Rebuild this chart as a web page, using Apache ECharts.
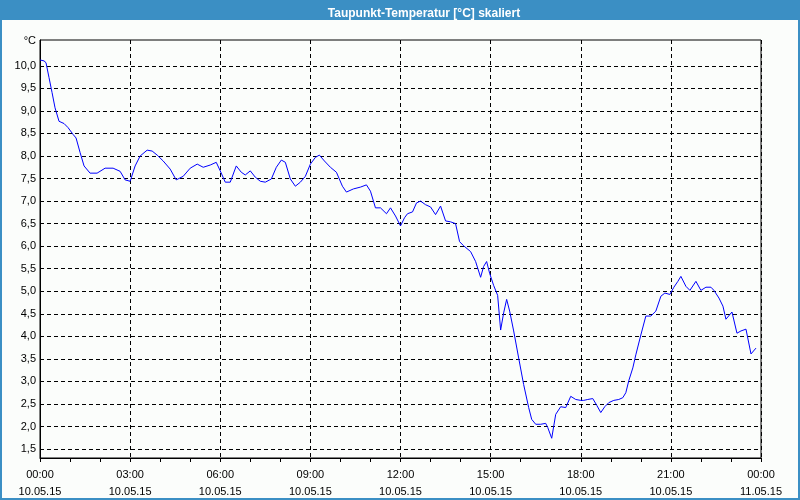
<!DOCTYPE html>
<html>
<head>
<meta charset="utf-8">
<script src="https://cdn.jsdelivr.net/npm/echarts@6/dist/echarts.min.js"></script>
<style>
html,body{margin:0;padding:0;background:#fbfdfb;}
#c{width:800px;height:500px;}
</style>
</head>
<body>
<div id="c"></div>
<script>
const chartTitle = 'Taupunkt-Temperatur [°C] skaliert';
const unitLabel = '°C';
// minutes since 10.05.15 00:00
const minutes = [
0,8,12,18,24,30,38,48,56,66,
72,80,88,100,114,130,146,160,170,180,
190,200,214,224,234,246,260,272,286,300,
314,326,340,352,360,370,380,392,402,410,
420,430,440,450,462,472,482,490,500,510,
520,530,540,550,558,568,580,592,604,612,
626,640,652,660,670,680,692,700,710,720,
728,734,744,752,760,770,780,790,800,810,
820,830,838,846,860,870,880,886,892,898,
906,914,920,926,932,938,946,956,966,976,
982,990,1000,1010,1014,1022,1030,1040,1050,1060,
1070,1080,1086,1094,1104,1112,1120,1128,1136,1146,
1156,1164,1170,1176,1184,1190,1200,1210,1220,1230,
1240,1248,1258,1266,1274,1280,1290,1298,1310,1320,
1330,1340,1346,1356,1364,1370,1382,1392,1400,1410,
1420,1430
];
const dewPoint = [
10.13,10.11,10.07,9.74,9.41,9.07,8.77,8.72,8.63,8.48,
8.40,8.08,7.78,7.62,7.62,7.73,7.73,7.66,7.47,7.44,
7.78,8.00,8.13,8.11,8.02,7.89,7.71,7.47,7.55,7.73,
7.82,7.75,7.80,7.86,7.67,7.42,7.42,7.78,7.64,7.58,
7.67,7.53,7.44,7.42,7.49,7.75,7.91,7.86,7.49,7.33,
7.42,7.55,7.82,7.97,8.02,7.89,7.75,7.64,7.33,7.20,
7.27,7.31,7.36,7.22,6.85,6.85,6.72,6.85,6.67,6.45,
6.63,6.72,6.76,6.96,7.00,6.92,6.87,6.70,6.89,6.56,
6.54,6.50,6.10,6.01,5.88,5.66,5.31,5.55,5.66,5.40,
5.13,4.91,4.14,4.52,4.82,4.56,4.12,3.52,2.93,2.42,
2.16,2.05,2.05,2.07,1.98,1.74,2.27,2.44,2.42,2.67,
2.60,2.58,2.58,2.60,2.62,2.47,2.31,2.44,2.53,2.58,
2.60,2.64,2.75,3.02,3.30,3.59,4.03,4.45,4.45,4.56,
4.89,4.96,4.93,5.09,5.22,5.33,5.11,5.02,5.22,5.02,
5.09,5.09,5.02,4.85,4.67,4.38,4.54,4.07,4.12,4.16,
3.61,3.74
];
const yTicks = [1.5,2.0,2.5,3.0,3.5,4.0,4.5,5.0,5.5,6.0,6.5,7.0,7.5,8.0,8.5,9.0,9.5,10.0];
const xTickTimes = ['00:00','03:00','06:00','09:00','12:00','15:00','18:00','21:00','00:00'];
const xTickDates = ['10.05.15','10.05.15','10.05.15','10.05.15','10.05.15','10.05.15','10.05.15','10.05.15','11.05.15'];

const seriesData = minutes.map((m, i) => [m / 60, dewPoint[i]]);
const font = 'Liberation Sans, Arial, sans-serif';
const barBlue = '#3b8fc4';

const chart = echarts.init(document.getElementById('c'), null, {renderer: 'canvas'});
chart.setOption({
  animation: false,
  backgroundColor: '#fbfdfb',
  title: {
    text: chartTitle,
    left: 419, top: 3, textAlign: 'center',
    textStyle: {color: '#ffffff', fontSize: 12, fontWeight: 'bold', fontFamily: font}
  },
  graphic: [
    {type: 'rect', z: -1, shape: {x: 0, y: 0, width: 800, height: 20}, style: {fill: barBlue}},
    {type: 'rect', z: -1, shape: {x: 0, y: 0, width: 2, height: 500}, style: {fill: barBlue}},
    {type: 'rect', z: -1, shape: {x: 798, y: 0, width: 2, height: 500}, style: {fill: barBlue}},
    {type: 'rect', z: -1, shape: {x: 0, y: 498, width: 800, height: 2}, style: {fill: barBlue}}
  ],
  grid: {left: 40, right: 39, top: 40, bottom: 39, show: true, borderColor: '#000', borderWidth: 1, backgroundColor: 'transparent', containLabel: false},
  xAxis: {
    type: 'value', min: 0, max: 24, interval: 3,
    axisLine: {show: true, lineStyle: {color: '#000', width: 1}},
    axisTick: {show: true, length: 4, lineStyle: {color: '#000'}},
    minorTick: {show: true, splitNumber: 3, length: 4, lineStyle: {color: '#000'}},
    axisLabel: {
      margin: 8, fontFamily: font, fontSize: 11, color: '#000', lineHeight: 17,
      formatter: v => { const i = Math.round(v / 3); return xTickTimes[i] + '\n' + xTickDates[i]; }
    },
    splitLine: {show: true, lineStyle: {color: '#000', type: [4, 3], width: 1}}
  },
  yAxis: {
    type: 'value', min: 1.302, max: 10.573,
    name: unitLabel, nameLocation: 'end', nameGap: -6,
    nameTextStyle: {fontFamily: font, fontSize: 11, color: '#000', align: 'right', padding: [0, 4, 0, 0]},
    axisLine: {show: true, onZero: false, lineStyle: {color: '#000', width: 1}},
    axisTick: {show: false, customValues: yTicks},
    axisLabel: {
      customValues: yTicks, margin: 4, fontFamily: font, fontSize: 11, color: '#000',
      formatter: v => v.toFixed(1).replace('.', ',')
    },
    splitLine: {show: true, lineStyle: {color: '#000', type: [4, 3], width: 1}}
  },
  series: [{
    type: 'line', data: seriesData, showSymbol: false, symbol: 'none',
    lineStyle: {color: '#0000ff', width: 1}, smooth: false, z: 3
  }]
});
</script>
</body>
</html>
